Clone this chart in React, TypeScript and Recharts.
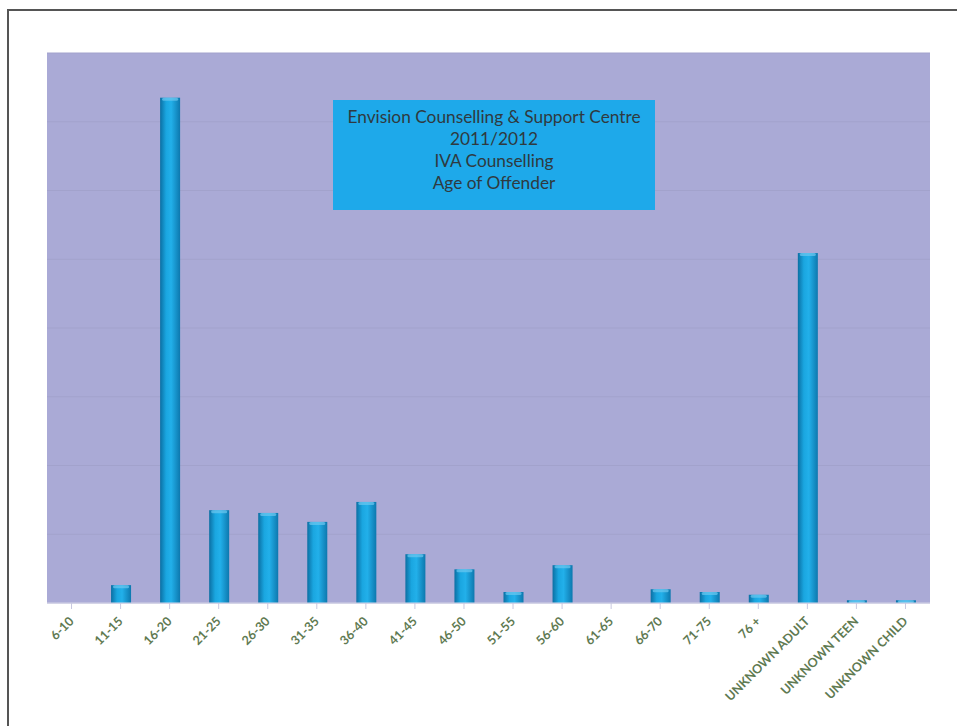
import React from 'react';
import { BarChart, Bar, XAxis, YAxis, CartesianGrid } from 'recharts';

const ageGroups = [
  '6-10', '11-15', '16-20', '21-25', '26-30', '31-35', '36-40', '41-45', '46-50',
  '51-55', '56-60', '61-65', '66-70', '71-75', '76 +',
  'UNKNOWN ADULT', 'UNKNOWN TEEN', 'UNKNOWN CHILD',
];
const offenderCounts = [0, 2.6, 73.5, 13.5, 13.1, 11.8, 14.7, 7.1, 4.9, 1.6, 5.5, 0, 2.0, 1.6, 1.2, 50.9, 0.4, 0.4];
const gridTicks = [0, 10, 20, 30, 40, 50, 60, 70, 80];
const titleLines = ['Envision Counselling & Support Centre', '2011/2012', 'IVA Counselling', 'Age of Offender'];

const data = ageGroups.map((age, i) => ({ age, count: offenderCounts[i] }));

// cylinder-ish bar like the old Excel 3D style
const CylinderBar = (props: any) => {
  const { x, y, width, height } = props;
  if (!height || height <= 0) return null;
  const cap = Math.min(3, height);
  return (
    <g>
      <rect x={x} y={y} width={width} height={height} fill="url(#barGrad)" />
      <rect x={x + 2} y={y} width={width - 4} height={cap} rx={1.5} fill="#6cc8ef" opacity={0.7} />
    </g>
  );
};

const AgeTick = (props: any) => {
  const { x, y, payload } = props;
  return (
    <text
      x={x + 3}
      y={y + 11}
      transform={`rotate(-45, ${x + 3}, ${y + 11})`}
      textAnchor="end"
      fill="#5f7a52"
      fontSize={12.5}
      fontWeight="bold"
      fontFamily="Lato, 'Open Sans', sans-serif"
    >
      {payload.value}
    </text>
  );
};

export default function App() {
  return (
    <div style={{ position: 'absolute', left: 0, top: 0, width: 957, height: 726, background: '#fff', overflow: 'hidden' }}>
      <div
        style={{
          position: 'absolute', left: 7, top: 9, width: 960, height: 730,
          borderTop: '2px solid #555', borderLeft: '2px solid #555',
        }}
      />
      <BarChart
        width={957}
        height={726}
        data={data}
        margin={{ top: 53, right: 27, bottom: 0, left: 47 }}
        barCategoryGap={0}
      >
        <defs>
          <linearGradient id="barGrad" x1="0" y1="0" x2="1" y2="0">
            <stop offset="0%" stopColor="#0b6fa3" />
            <stop offset="30%" stopColor="#1aa6e0" />
            <stop offset="55%" stopColor="#22b0ea" />
            <stop offset="100%" stopColor="#0d78ae" />
          </linearGradient>
        </defs>
        <CartesianGrid vertical={false} fill="#aaaad6" fillOpacity={1} stroke="#a2a2cc" strokeWidth={1} />
        <XAxis
          dataKey="age"
          interval={0}
          tick={<AgeTick />}
          tickLine={{ stroke: '#c8c8e0' }}
          axisLine={{ stroke: '#d8d8ea' }}
          height={123}
        />
        <YAxis hide domain={[0, 80]} ticks={gridTicks} />
        <Bar dataKey="count" barSize={20} shape={<CylinderBar />} isAnimationActive={false} />
      </BarChart>
      <div
        style={{
          position: 'absolute', left: 333, top: 100, width: 322, height: 110,
          background: '#1ea9ea', color: '#2f3a40', textAlign: 'center',
          fontFamily: "Lato, 'Open Sans', sans-serif", fontSize: 17.3, lineHeight: '22px',
          boxSizing: 'border-box', paddingTop: 6,
        }}
      >
        {titleLines.map((t) => (
          <div key={t}>{t}</div>
        ))}
      </div>
    </div>
  );
}
